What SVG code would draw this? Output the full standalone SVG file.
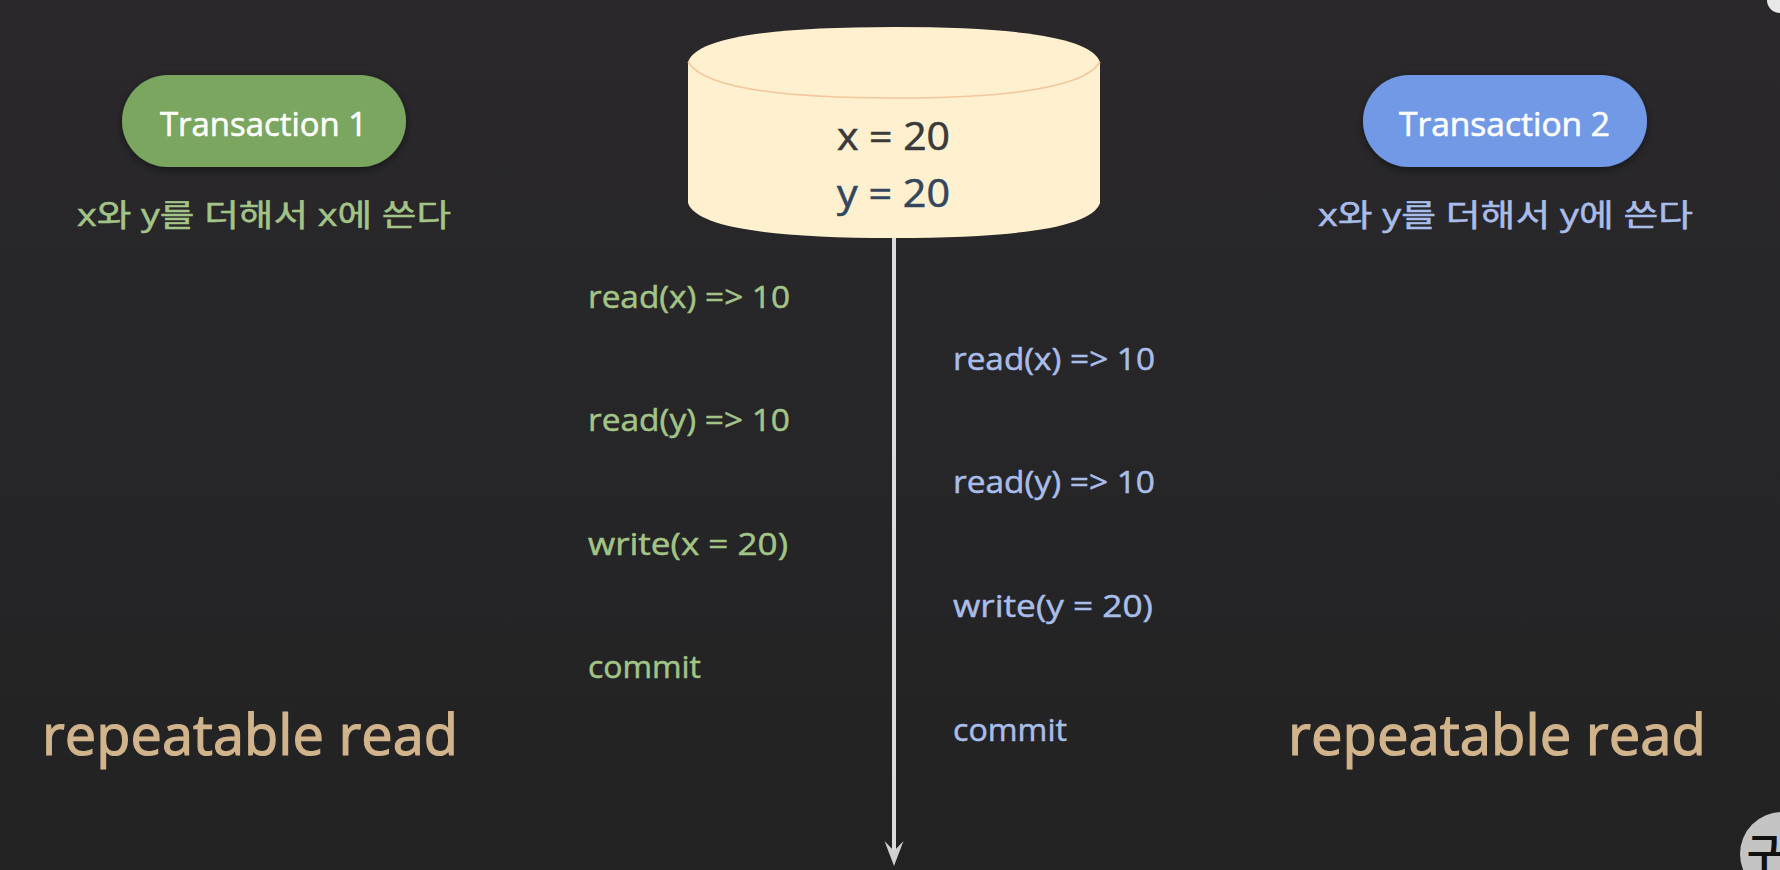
<svg xmlns="http://www.w3.org/2000/svg" width="1780" height="870" viewBox="0 0 1780 870">
<style>
text{font-family:"Open Sans","Noto Sans CJK KR",sans-serif;font-weight:400}
.pill{font-size:33px;fill:#fff;stroke:#fff;stroke-width:.6px}
.sub{font-size:31px;stroke-width:.5px}
.g{fill:#a3c487;stroke:#a3c487;stroke-width:.5px}
.b{fill:#a9bde9;stroke:#a9bde9;stroke-width:.5px}
.op{font-size:31px}
.iso{font-size:57px;fill:#d2b48c;stroke:#d2b48c;stroke-width:1.200px}
.val{font-size:39px;stroke-width:.6px}
</style>
<defs>
<linearGradient id="bg" x1="0" y1="0" x2="0" y2="1"><stop offset="0" stop-color="#2a282b"/><stop offset="1" stop-color="#222223"/></linearGradient>
<filter id="sh" x="-10%" y="-20%" width="120%" height="150%"><feDropShadow dx="0" dy="3" stdDeviation="4" flood-color="#000" flood-opacity="0.45"/></filter>
</defs>
<rect width="1780" height="870" fill="url(#bg)"/>
<circle cx="1780" cy="0" r="13" fill="#e8e8e8"/>
<g id="connectors">
<path d="M894 238V860" fill="none" stroke="#dcdcdc" stroke-width="4"/>
<path d="M884.500 841 L894 851 L903.500 841 L894 866 Z" fill="#d0d0d0"/>
</g>
<g id="database">
<path d="M688 62 Q700 27 894 27 Q1088 27 1100 62 V203 Q1088 238 894 238 Q700 238 688 203 Z" fill="#fff1d0"/>
<path d="M688 62 Q710 98 894 98 Q1078 98 1100 62" fill="none" stroke="#f3c79b" stroke-width="1.500"/>
<text class="val" x="837" y="150" fill="#3a3a3a" stroke="#3a3a3a" textLength="113" lengthAdjust="spacingAndGlyphs">x = 20</text>
<text class="val" x="837" y="207" fill="#34465e" stroke="#34465e" textLength="113" lengthAdjust="spacingAndGlyphs">y = 20</text>
</g>
<g id="transaction1">
<rect x="122" y="75" width="284" height="92" rx="46" fill="#7aa65e" filter="url(#sh)"/>
<text class="pill" x="160" y="136" textLength="207" lengthAdjust="spacingAndGlyphs">Transaction 1</text>
<text class="sub g" x="77" y="226" textLength="374" lengthAdjust="spacingAndGlyphs">x와 y를 더해서 x에 쓴다</text>
</g>
<g id="transaction2">
<rect x="1363" y="75" width="284" height="92" rx="46" fill="#7299e6" filter="url(#sh)"/>
<text class="pill" x="1399" y="136" textLength="211" lengthAdjust="spacingAndGlyphs">Transaction 2</text>
<text class="sub b" x="1318" y="226" textLength="375" lengthAdjust="spacingAndGlyphs">x와 y를 더해서 y에 쓴다</text>
</g>
<g id="ops1" class="g">
<text class="op" x="588" y="308" textLength="202" lengthAdjust="spacingAndGlyphs">read(x) =&gt; 10</text>
<text class="op" x="588" y="431" textLength="202" lengthAdjust="spacingAndGlyphs">read(y) =&gt; 10</text>
<text class="op" x="588" y="555" textLength="200" lengthAdjust="spacingAndGlyphs">write(x = 20)</text>
<text class="op" x="588" y="678" textLength="113" lengthAdjust="spacingAndGlyphs">commit</text>
</g>
<g id="ops2" class="b">
<text class="op" x="953" y="370" textLength="202" lengthAdjust="spacingAndGlyphs">read(x) =&gt; 10</text>
<text class="op" x="953" y="493" textLength="202" lengthAdjust="spacingAndGlyphs">read(y) =&gt; 10</text>
<text class="op" x="953" y="617" textLength="200" lengthAdjust="spacingAndGlyphs">write(y = 20)</text>
<text class="op" x="953" y="741" textLength="114" lengthAdjust="spacingAndGlyphs">commit</text>
</g>
<g id="isolation1"><text class="iso" x="42" y="755" textLength="416" lengthAdjust="spacingAndGlyphs">repeatable read</text></g>
<g id="isolation2"><text class="iso" x="1288" y="755" textLength="418" lengthAdjust="spacingAndGlyphs">repeatable read</text></g>
<g id="badge">
<circle cx="1782" cy="854" r="42" fill="#c4c4c4"/>
<text x="1747" y="866" font-size="38" fill="#111" style="font-family:'Noto Sans CJK KR',sans-serif;font-weight:700">구</text>
</g>
</svg>
